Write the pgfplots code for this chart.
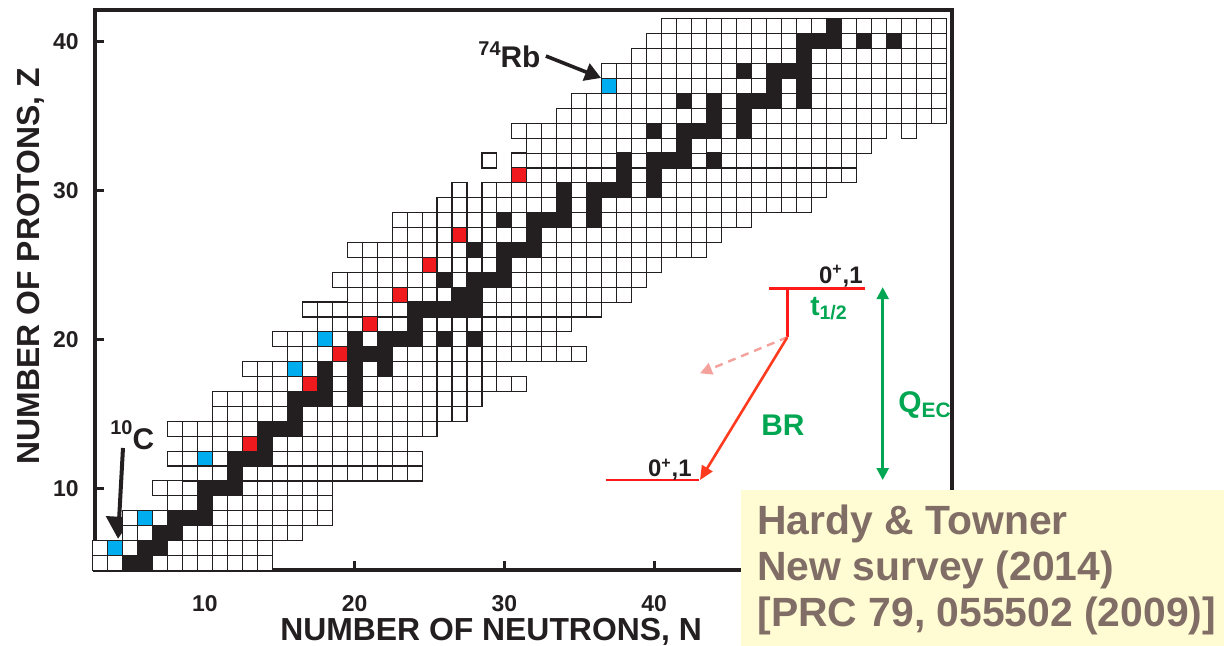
\documentclass[border=0pt]{standalone}
\usepackage{pgfplots}
\pgfplotsset{compat=1.18}
\usepackage{fontspec}
\setmainfont{Liberation Sans}
\usetikzlibrary{arrows.meta}

\definecolor{ink}{HTML}{231F20}
\definecolor{cellred}{HTML}{F01A1E}
\definecolor{cellblue}{HTML}{00AEEF}
\definecolor{decred}{HTML}{FF1A1A}
\definecolor{decorange}{HTML}{FF3B1F}
\definecolor{decpink}{HTML}{F4A19C}
\definecolor{decgreen}{HTML}{00A651}
\definecolor{notefill}{HTML}{FFFBD3}
\definecolor{notetext}{HTML}{7F6D66}

\pgfplotsset{
  cell/.style={only marks, mark=square*, mark size=3.744bp,
    mark options={line width=0.55bp, draw=ink, fill=#1}},
}

\begin{document}
\begin{tikzpicture}
\begin{axis}[
  x=7.488bp, y=7.4515bp,
  xmin=2.64, xmax=59.9, ymin=4.49, ymax=42.08,
  axis on top, clip=false,
  axis line style={line width=2bp, ink},
  tick pos=left, tick align=inside,
  major tick length=4.5bp,
  tick style={line width=1.5bp, ink},
  xtick={10,20,30,40}, ytick={10,20,30,40},
  /pgf/number format/assume math mode=true,
  ticklabel style={font=\bfseries\fontsize{11.5}{13}\selectfont, text=ink},
  xticklabel style={yshift=-9bp},
  yticklabel style={xshift=-4.5bp},
  xlabel={NUMBER OF NEUTRONS, N},
  ylabel={NUMBER OF PROTONS, Z},
  label style={font=\bfseries\fontsize{16}{19}\selectfont, text=ink, inner sep=0pt},
  xlabel style={at={(axis description cs:0.4623,-0.1258)}, anchor=base},
  ylabel style={at={(axis description cs:-0.0638,0.5435)}, anchor=base},
]

% all known nuclides, one row of Z per line
\addplot[cell=white] coordinates {
(3,5)(4,5)(5,5)(6,5)(7,5)(8,5)(9,5)(10,5)(11,5)(12,5)(13,5)(14,5)
(3,6)(4,6)(5,6)(6,6)(7,6)(8,6)(9,6)(10,6)(11,6)(12,6)(13,6)(14,6)
(5,7)(6,7)(7,7)(8,7)(9,7)(10,7)(11,7)(12,7)(13,7)(14,7)(15,7)(16,7)
(5,8)(6,8)(7,8)(8,8)(9,8)(10,8)(11,8)(12,8)(13,8)(14,8)(15,8)(16,8)(17,8)(18,8)
(8,9)(9,9)(10,9)(11,9)(12,9)(13,9)(14,9)(15,9)(16,9)(17,9)(18,9)
(7,10)(8,10)(9,10)(10,10)(11,10)(12,10)(13,10)(14,10)(15,10)(16,10)(17,10)(18,10)
(9,11)(10,11)(11,11)(12,11)(13,11)(14,11)(15,11)(16,11)(17,11)(18,11)(19,11)(20,11)(21,11)(22,11)(23,11)(24,11)
(8,12)(9,12)(10,12)(11,12)(12,12)(13,12)(14,12)(15,12)(16,12)(17,12)(18,12)(19,12)(20,12)(21,12)(22,12)(23,12)(24,12)
(9,13)(10,13)(11,13)(12,13)(13,13)(14,13)(15,13)(16,13)(17,13)(18,13)(19,13)(20,13)(21,13)(22,13)(23,13)
(8,14)(9,14)(10,14)(11,14)(12,14)(13,14)(14,14)(15,14)(16,14)(17,14)(18,14)(19,14)(20,14)(21,14)(22,14)(23,14)(24,14)(25,14)
(11,15)(12,15)(13,15)(14,15)(15,15)(16,15)(17,15)(18,15)(19,15)(20,15)(21,15)(22,15)(23,15)(24,15)(25,15)(26,15)(27,15)
(11,16)(12,16)(13,16)(14,16)(15,16)(16,16)(17,16)(18,16)(19,16)(20,16)(21,16)(22,16)(23,16)(24,16)(25,16)(26,16)(27,16)(28,16)
(14,17)(15,17)(16,17)(17,17)(18,17)(19,17)(20,17)(21,17)(22,17)(23,17)(24,17)(25,17)(26,17)(27,17)(28,17)(29,17)(30,17)(31,17)
(13,18)(14,18)(15,18)(16,18)(17,18)(18,18)(19,18)(20,18)(21,18)(22,18)(23,18)(24,18)(25,18)(26,18)(27,18)(28,18)(29,18)
(16,19)(17,19)(18,19)(19,19)(20,19)(21,19)(22,19)(23,19)(24,19)(25,19)(26,19)(27,19)(28,19)(29,19)(30,19)(31,19)(32,19)(33,19)(34,19)(35,19)
(15,20)(16,20)(17,20)(18,20)(19,20)(20,20)(21,20)(22,20)(23,20)(24,20)(25,20)(26,20)(27,20)(28,20)(29,20)(30,20)(31,20)(32,20)(33,20)
(18,21)(19,21)(20,21)(21,21)(22,21)(23,21)(24,21)(25,21)(26,21)(27,21)(28,21)(29,21)(30,21)(31,21)(32,21)(33,21)(34,21)
(17,22)(18,22)(19,22)(20,22)(21,22)(22,22)(23,22)(24,22)(25,22)(26,22)(27,22)(28,22)(29,22)(30,22)(31,22)(32,22)(33,22)(34,22)(35,22)(36,22)
(20,23)(21,23)(22,23)(23,23)(24,23)(25,23)(26,23)(27,23)(28,23)(29,23)(30,23)(31,23)(32,23)(33,23)(34,23)(35,23)(36,23)(37,23)(38,23)
(19,24)(20,24)(21,24)(22,24)(23,24)(24,24)(25,24)(26,24)(27,24)(28,24)(29,24)(30,24)(31,24)(32,24)(33,24)(34,24)(35,24)(36,24)(37,24)(38,24)(39,24)
(21,25)(22,25)(23,25)(24,25)(25,25)(26,25)(27,25)(28,25)(29,25)(30,25)(31,25)(32,25)(33,25)(34,25)(35,25)(36,25)(37,25)(38,25)(39,25)(40,25)
(20,26)(21,26)(22,26)(23,26)(24,26)(25,26)(26,26)(27,26)(28,26)(29,26)(30,26)(31,26)(32,26)(33,26)(34,26)(35,26)(36,26)(37,26)(38,26)(39,26)(40,26)(41,26)(42,26)(43,26)
(23,27)(24,27)(25,27)(26,27)(27,27)(28,27)(29,27)(30,27)(31,27)(32,27)(33,27)(34,27)(35,27)(36,27)(37,27)(38,27)(39,27)(40,27)(41,27)(42,27)(43,27)(44,27)
(23,28)(24,28)(25,28)(26,28)(27,28)(28,28)(29,28)(30,28)(31,28)(32,28)(33,28)(34,28)(35,28)(36,28)(37,28)(38,28)(39,28)(40,28)(41,28)(42,28)(43,28)(44,28)(45,28)(46,28)
(26,29)(27,29)(28,29)(29,29)(30,29)(31,29)(32,29)(33,29)(34,29)(35,29)(36,29)(37,29)(38,29)(39,29)(40,29)(41,29)(42,29)(43,29)(44,29)(45,29)(46,29)(47,29)(48,29)(49,29)(50,29)
(27,30)(29,30)(30,30)(31,30)(32,30)(33,30)(34,30)(35,30)(36,30)(37,30)(38,30)(39,30)(40,30)(41,30)(42,30)(43,30)(44,30)(45,30)(46,30)(47,30)(48,30)(49,30)(50,30)(51,30)
(31,31)(32,31)(33,31)(34,31)(35,31)(36,31)(37,31)(38,31)(39,31)(40,31)(41,31)(42,31)(43,31)(44,31)(45,31)(46,31)(47,31)(48,31)(49,31)(50,31)(51,31)(52,31)(53,31)
(29,32)(31,32)(32,32)(33,32)(34,32)(35,32)(36,32)(37,32)(38,32)(39,32)(40,32)(41,32)(42,32)(43,32)(44,32)(45,32)(46,32)(47,32)(48,32)(49,32)(50,32)(51,32)(52,32)(53,32)
(32,33)(33,33)(34,33)(35,33)(36,33)(37,33)(38,33)(39,33)(40,33)(41,33)(42,33)(43,33)(44,33)(45,33)(46,33)(47,33)(48,33)(49,33)(50,33)(51,33)(52,33)(53,33)(54,33)
(31,34)(32,34)(33,34)(34,34)(35,34)(36,34)(37,34)(38,34)(39,34)(40,34)(41,34)(42,34)(43,34)(44,34)(45,34)(46,34)(47,34)(48,34)(49,34)(50,34)(51,34)(52,34)(53,34)(54,34)(55,34)(57,34)
(34,35)(35,35)(36,35)(37,35)(38,35)(39,35)(40,35)(41,35)(42,35)(43,35)(44,35)(45,35)(46,35)(47,35)(48,35)(49,35)(50,35)(51,35)(52,35)(53,35)(54,35)(55,35)(56,35)(57,35)(58,35)(59,35)
(35,36)(36,36)(37,36)(38,36)(39,36)(40,36)(41,36)(42,36)(43,36)(44,36)(45,36)(46,36)(47,36)(48,36)(49,36)(50,36)(51,36)(52,36)(53,36)(54,36)(55,36)(56,36)(57,36)(58,36)(59,36)
(37,37)(38,37)(39,37)(40,37)(41,37)(42,37)(43,37)(44,37)(45,37)(46,37)(47,37)(48,37)(49,37)(50,37)(51,37)(52,37)(53,37)(54,37)(55,37)(56,37)(57,37)(58,37)(59,37)
(37,38)(38,38)(39,38)(40,38)(41,38)(42,38)(43,38)(44,38)(45,38)(46,38)(47,38)(48,38)(49,38)(50,38)(51,38)(52,38)(53,38)(54,38)(55,38)(56,38)(57,38)(58,38)(59,38)
(39,39)(40,39)(41,39)(42,39)(43,39)(44,39)(45,39)(46,39)(47,39)(48,39)(49,39)(50,39)(51,39)(52,39)(53,39)(54,39)(55,39)(56,39)(57,39)(58,39)(59,39)
(40,40)(41,40)(42,40)(43,40)(44,40)(45,40)(46,40)(47,40)(48,40)(49,40)(50,40)(51,40)(52,40)(53,40)(54,40)(55,40)(56,40)(57,40)(58,40)(59,40)
(41,41)(42,41)(43,41)(44,41)(45,41)(46,41)(47,41)(48,41)(49,41)(50,41)(51,41)(52,41)(53,41)(54,41)(55,41)(56,41)(57,41)(58,41)(59,41)
};

% stable nuclides
\addplot[only marks, mark=square*, mark size=3.744bp,
  mark options={line width=0.55bp, draw=ink, fill=ink}] coordinates {
(5,5)(6,5)(6,6)(7,6)(7,7)(8,7)(8,8)(9,8)(10,8)(10,9)(10,10)(11,10)(12,10)
(12,11)(12,12)(13,12)(14,12)(14,13)(14,14)(15,14)(16,14)(16,15)
(16,16)(17,16)(18,16)(20,16)(18,17)(20,17)(18,18)(20,18)(22,18)
(20,19)(21,19)(22,19)(20,20)(22,20)(23,20)(24,20)(26,20)(28,20)(24,21)
(24,22)(25,22)(26,22)(27,22)(28,22)(27,23)(28,23)(26,24)(28,24)(29,24)(30,24)
(30,25)(28,26)(30,26)(31,26)(32,26)(32,27)(30,28)(32,28)(33,28)(34,28)(36,28)
(34,29)(36,29)(34,30)(36,30)(37,30)(38,30)(40,30)(38,31)(40,31)
(38,32)(40,32)(41,32)(42,32)(44,32)(42,33)(40,34)(42,34)(43,34)(44,34)(46,34)
(44,35)(46,35)(42,36)(44,36)(46,36)(47,36)(48,36)(50,36)(48,37)(50,37)
(46,38)(48,38)(49,38)(50,38)(50,39)(50,40)(51,40)(52,40)(54,40)(56,40)(52,41)
};

% superallowed emitters
\addplot[cell=cellred] coordinates {
(13,13)(17,17)(19,19)(21,21)(23,23)(25,25)(27,27)(31,31)
};
\addplot[cell=cellblue] coordinates {
(4,6)(6,8)(10,12)(16,18)(18,20)(37,37)
};

% labelled nuclides
\draw[ink, line width=2bp, -{Triangle[width=13bp,length=11bp]}]
  (axis cs:4.53,12.71) -- (axis cs:4.2,6.62);
\node[anchor=base west, inner sep=0pt, text=ink,
  font=\bfseries\fontsize{15}{18}\selectfont] at (axis cs:3.66,12.64)
  {\raisebox{7.5bp}{\fontsize{10}{12}\selectfont 10}C};
\draw[ink, line width=1.8bp, -{Triangle[width=9bp,length=8bp]}]
  (axis cs:32.77,39.01) -- (axis cs:36.45,37.54);
\node[anchor=base west, inner sep=0pt, text=ink,
  font=\bfseries\fontsize{15}{18}\selectfont] at (axis cs:28.24,38.27)
  {\raisebox{6bp}{\fontsize{10}{12}\selectfont 74}Rb};

% decay scheme
\draw[decred, line width=1.3bp] (axis cs:47.67,23.43) -- (axis cs:54.08,23.43);
\draw[decred, line width=1.3bp] (axis cs:48.89,23.43) -- (axis cs:48.89,20.14);
\draw[decpink, line width=1.2bp, dash pattern=on 4bp off 3bp,
  -{Triangle[width=6bp,length=6bp]}] (axis cs:48.89,20.14) -- (axis cs:43.06,17.72);
\draw[decorange, line width=1.3bp, -{Triangle[width=6bp,length=7bp]}]
  (axis cs:48.89,20.14) -- (axis cs:43.06,10.56);
\draw[decred, line width=1.3bp] (axis cs:36.78,10.56) -- (axis cs:42.99,10.56);
\draw[decgreen, line width=1.3bp, {Triangle[width=6bp,length=6bp]}-{Triangle[width=6bp,length=6bp]}]
  (axis cs:55.26,23.5) -- (axis cs:55.26,10.56);
\node[anchor=base east, inner sep=0pt, text=ink, font=\bfseries\fontsize{12}{14}\selectfont]
  at (axis cs:53.94,23.78) {0\textsuperscript{+},1};
\node[anchor=base east, inner sep=0pt, text=ink, font=\bfseries\fontsize{12}{14}\selectfont]
  at (axis cs:42.53,10.78) {0\textsuperscript{+},1};
\node[anchor=base west, inner sep=0pt, text=decgreen, font=\bfseries\fontsize{14}{16}\selectfont]
  at (axis cs:50.40,21.63) {t\textsubscript{1/2}};
\node[anchor=base west, inner sep=0pt, text=decgreen, font=\bfseries\fontsize{15}{18}\selectfont]
  at (axis cs:56.28,15.06) {Q\textsubscript{EC}};
\node[anchor=base west, inner sep=0pt, text=decgreen, font=\bfseries\fontsize{15}{18}\selectfont]
  at (axis cs:47.13,13.58) {BR};

% anchors for the reference note and the page frame
\coordinate (noteSW) at (axis cs:45.79,-0.576);
\coordinate (noteNE) at (axis cs:78.05,9.89);
\coordinate (lineA) at (axis cs:46.87,6.872);
\coordinate (lineB) at (axis cs:46.87,3.806);
\coordinate (lineC) at (axis cs:46.87,0.719);
\coordinate (pageSW) at (axis cs:-3.682,-0.576);
\coordinate (pageNE) at (axis cs:78.05,42.77);
\end{axis}

\fill[notefill] (noteSW) rectangle (noteNE);
\begin{scope}[every node/.style={anchor=base west, inner sep=0pt, text=notetext,
    font=\bfseries\fontsize{20.5}{24}\selectfont}]
  \node at (lineA) {Hardy \& Towner};
  \node at (lineB) {New survey (2014)};
  \node at (lineC) {[PRC 79, 055502 (2009)]};
\end{scope}

\pgfresetboundingbox
\path[use as bounding box] (pageSW) rectangle (pageNE);
\end{tikzpicture}
\end{document}
